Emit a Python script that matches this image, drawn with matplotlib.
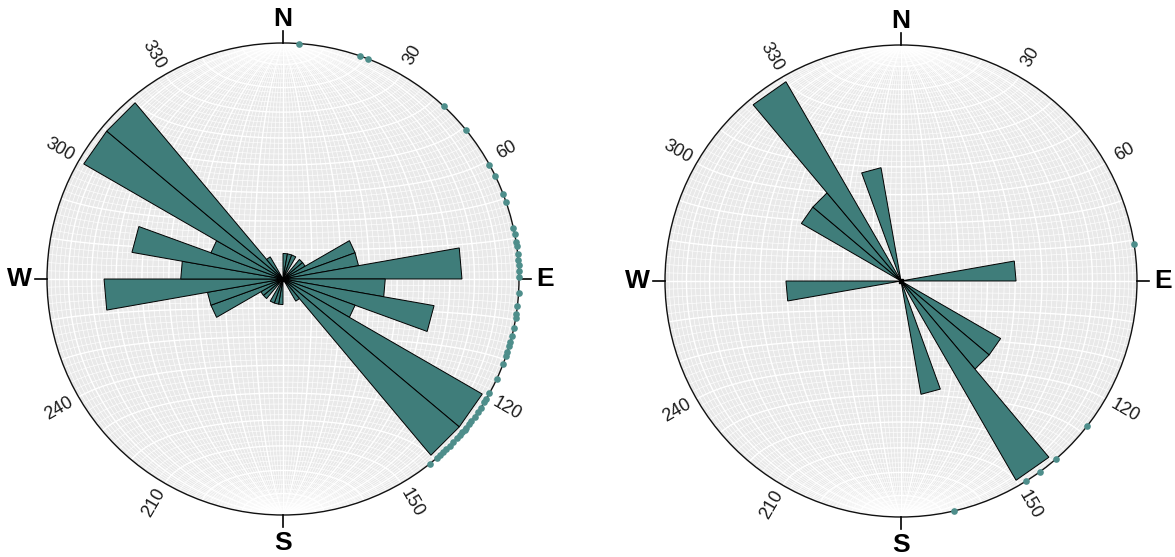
import numpy as np
import matplotlib
matplotlib.use("Agg")
import matplotlib.pyplot as plt
from matplotlib.collections import LineCollection
from matplotlib.patches import Polygon, Circle

plt.rcParams['font.family'] = ['Liberation Sans', 'DejaVu Sans']

# azimuths (deg) of the measurements plotted on the primitive circle
left_points = [4, 19, 21, 43, 51, 61, 64, 69, 71, 77.5, 79,
               81, 82, 84, 85.5, 86.5, 88, 89.5, 93.5, 96.5, 98.5, 99.5,
               102, 104, 105.5, 106.5, 108, 109, 111, 115, 119,
               120.5, 121.5, 123, 124.3, 125.7, 127, 128, 129, 129.7,
               130.5, 131.5, 132.5, 133.8, 135, 136.2, 137.3, 138.2, 139.2,
               141.5]
right_points = [81, 128, 139, 144, 148, 167]

bin_width = 10
direction_labels = ['N', 'E', 'S', 'W']
degree_labels = [30, 60, 120, 150, 210, 240, 300, 330]

petal_color = '#3f7d7a'
point_color = '#4e8e8b'
net_bg = '#e9e9e9'


def project(v):
    # lower hemisphere equal-area (Schmidt) projection
    x, y, z = v
    s = np.sqrt(1 + z)
    return x / s, y / s


def net_segments(step=2):
    t = np.linspace(0, np.pi, 181)
    minor, major = [], []
    for d in range(step, 180, step):
        dr = np.radians(d)
        v = (np.sin(t) * np.cos(dr), np.cos(t), np.sin(t) * np.sin(dr))
        seg = np.column_stack(project(v))
        (major if d % 10 == 0 else minor).append(seg)
    for a in range(step, 180, step):
        ar = np.radians(a)
        v = (np.sin(ar) * np.cos(t), np.full_like(t, np.cos(ar)), np.sin(ar) * np.sin(t))
        seg = np.column_stack(project(v))
        (major if a % 10 == 0 else minor).append(seg)
    return minor, major


def draw_rose(ax, points):
    pts = np.asarray(points) % 180
    counts, edges = np.histogram(pts, bins=np.arange(0, 181, bin_width))
    scale = 0.975 / counts.max()

    # background net
    clip = Circle((0, 0), 1, transform=ax.transData)
    ax.add_patch(Circle((0, 0), 1, facecolor=net_bg, edgecolor='none', zorder=0))
    minor, major = net_segments()
    lc1 = LineCollection(minor, colors='white', linewidths=0.45, zorder=1)
    lc2 = LineCollection(major, colors='white', linewidths=1.0, zorder=1)
    for lc in (lc1, lc2):
        lc.set_clip_path(clip)
        ax.add_collection(lc)

    # petals, mirrored (bidirectional data)
    for c, a1, a2 in zip(counts, edges[:-1], edges[1:]):
        if c == 0:
            continue
        r = c * scale
        for off in (0, 180):
            b1, b2 = np.radians(a1 + off), np.radians(a2 + off)
            verts = [(0, 0), (r * np.sin(b1), r * np.cos(b1)), (r * np.sin(b2), r * np.cos(b2))]
            ax.add_patch(Polygon(verts, closed=True, facecolor=petal_color,
                                 edgecolor='black', linewidth=0.7, zorder=3))
    ax.plot([0], [0], marker='s', color='black', markersize=3, zorder=4)

    # primitive circle and compass ticks
    ax.add_patch(Circle((0, 0), 1, facecolor='none', edgecolor='#111111', linewidth=1.0, zorder=5))
    for i, lab in enumerate(direction_labels):
        a = np.radians(90 * i)
        ax.plot([np.sin(a), 1.05 * np.sin(a)], [np.cos(a), 1.05 * np.cos(a)],
                color='black', linewidth=1.2, zorder=5)
        rr = {'N': 1.1, 'E': 1.11, 'S': 1.12, 'W': 1.115}[lab]
        ax.text(rr * np.sin(a), rr * np.cos(a), lab, ha='center', va='center',
                fontsize=19, fontweight='bold')
    for d in degree_labels:
        a = np.radians(d)
        rot = 90 - d
        while rot > 90:
            rot -= 180
        while rot < -90:
            rot += 180
        ax.text(1.095 * np.sin(a), 1.095 * np.cos(a), str(d), ha='center', va='center',
                rotation=rot, rotation_mode='anchor', fontsize=13, color='#1a1a1a')

    # measurements on the primitive
    pa = np.radians(points)
    ax.plot(np.sin(pa), np.cos(pa), 'o', color=point_color, markersize=4.8,
            markeredgewidth=0, zorder=6, clip_on=False)

    ax.set_xlim(-1.17, 1.17)
    ax.set_ylim(-1.17, 1.17)
    ax.set_aspect('equal')
    ax.axis('off')


fig = plt.figure(figsize=(11.75, 5.57), dpi=100)
W, H = 1175, 557
half = 1.17 * 236
for (cx, cy), pts in [((283, 279), left_points), ((901, 281), right_points)]:
    ax = fig.add_axes([(cx - half) / W, (H - cy - half) / H, 2 * half / W, 2 * half / H])
    draw_rose(ax, pts)

fig.savefig('out.png', dpi=100, facecolor='white')
